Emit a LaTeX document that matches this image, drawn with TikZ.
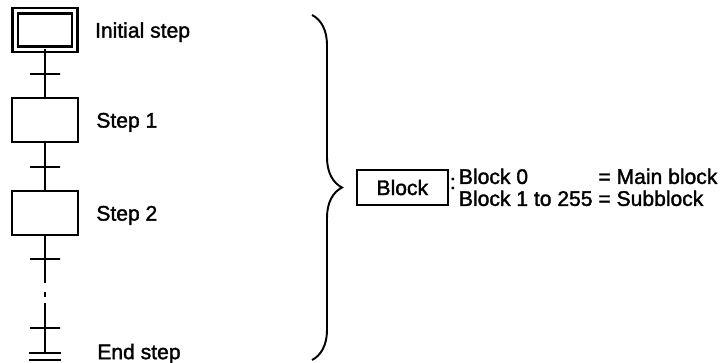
\documentclass[tikz,border=0pt]{standalone}
\usepackage{fontspec}
\setmainfont{Liberation Sans}
\newfontfamily\scanfont{Liberation Sans}[RawFeature={embolden=1.6}]
\usetikzlibrary{positioning,calc,decorations.pathreplacing}
\tikzstyle{link} = [line width=1.2pt]
\tikzstyle{stepbox} = [
    rectangle, minimum width=1.32cm, minimum height=0.88cm,
    draw=black, line width=1.2pt, outer sep=0pt]
\tikzstyle{initstep} = [
    rectangle, minimum width=1.19cm, minimum height=0.77cm,
    draw=black, line width=1.3pt, double, double distance=1.7pt, outer sep=0pt]
\tikzstyle{trans} = [
    rectangle, minimum width=0.6cm, minimum height=0pt, inner sep=0pt,
    draw=black, line width=1.1pt, outer sep=0pt]
\tikzstyle{steplabel} = [inner sep=0pt, text depth=0pt]
\tikzstyle{brace} = [decorate, decoration={brace, amplitude=0.6cm}, line width=1.1pt]
\tikzstyle{blockbox} = [
    rectangle, minimum width=1.82cm, minimum height=0.7cm,
    draw=black, line width=0.9pt]

\begin{document}
\begin{tikzpicture}[font=\scanfont\fontsize{12}{12.5}\selectfont]
\useasboundingbox (0,0) rectangle (14.5,7.24);

% step chain
\node (init) [initstep] at (0.9,6.64) {};
\node (step1) [stepbox, below=0.98cm of init] {};
\node (step2) [stepbox, below=0.98cm of step1] {};
\coordinate (endstep) at (0.9,0.18);

\node (initlabel) [steplabel, right=0.4cm of init] {Initial step};
\node (step1label) [steplabel, right=0.36cm of step1] {Step 1};
\node (step2label) [steplabel, right=0.36cm of step2] {Step 2};
\node (endlabel) [steplabel, right=1.04cm of endstep, yshift=0.03cm] {End step};

\draw [link] (init) -- (step1);
\draw [link] (step1) -- (step2);
\draw [link, dash pattern=on 0.955cm off 0.18cm on 0.1cm off 0.12cm on 3cm] (step2) -- (endstep);

% transitions
\node (t1) [trans] at ($(init.south)!0.5!(step1.north)$) {};
\node (t2) [trans] at ($(step1.south)!0.5!(step2.north)$) {};
\node (t3) [trans, below=0.48cm of step2.south] {};
\node (t4) [trans, above=0.5cm of endstep] {};

% end step
\draw [link] ([xshift=-0.32cm]endstep) -- ([xshift=0.32cm]endstep);
\draw [link] ([xshift=-0.32cm,yshift=-0.14cm]endstep) -- ([xshift=0.32cm,yshift=-0.14cm]endstep);

% brace and block
\coordinate (bracetop) at (6.24,6.94);
\coordinate (bracebot) at (6.24,0.04);
\coordinate (bracetip) at ($(bracetop)!0.5!(bracebot)+(0.6,0)$);
\draw [brace] (bracetop) -- (bracebot);

\node (block) [blockbox, right=0.28cm of bracetip] {Block};
\node (colon) [inner sep=0pt, right=0.02cm of block, yshift=0.08cm] {:};
\node (blockdesc) [inner sep=0pt, right=0.2cm of block, yshift=-0.06cm] {
    \begin{tabular}{@{}l@{ }l@{}}
    Block 0 & = Main block \\
    Block 1 to 255 & = Subblock
    \end{tabular}
};
\end{tikzpicture}
\end{document}
